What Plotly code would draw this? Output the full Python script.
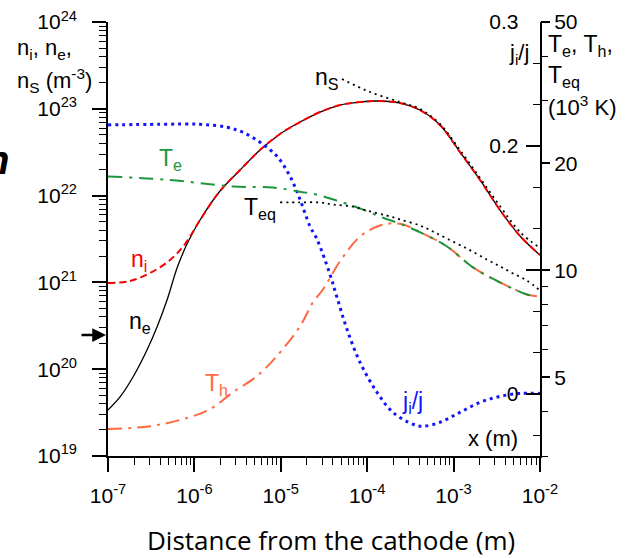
import numpy as np
import plotly.graph_objects as go

# ---------------- data (x given as log10 of distance in m) ----------------
# densities, log10(n / m^-3)
n_tail_logx = [-5.935, -5.704, -5.472, -5.241, -5.009, -4.778, -4.546, -4.315, -4.083,
               -3.852, -3.620, -3.389, -3.157, -2.926, -2.694, -2.463, -2.231, -2.000]
n_tail_logn = [21.719, 22.053, 22.295, 22.525, 22.710, 22.848, 22.963, 23.044, 23.078,
               23.090, 23.067, 22.986, 22.813, 22.502, 22.180, 21.834, 21.535, 21.316]

ne_logx = [-7.000, -6.861, -6.711, -6.549, -6.433, -6.317, -6.201, -6.086] + n_tail_logx
ne_logn = [19.530, 19.680, 19.910, 20.221, 20.486, 20.797, 21.165, 21.442] + n_tail_logn

ni_logx = [-7.000, -6.745, -6.514, -6.282, -6.109] + n_tail_logx
ni_logn = [20.993, 21.016, 21.108, 21.258, 21.442] + n_tail_logn

ns_logx = [-4.292, -3.968, -3.620, -3.389, -3.157, -2.926, -2.694, -2.463, -2.231, -2.000]
ns_logn = [23.343, 23.194, 23.078, 22.998, 22.825, 22.525, 22.203, 21.880, 21.580, 21.397]

# temperatures, log10(T / 10^3 K)
t_tail_logx = [-3.620, -3.354, -3.076, -2.775, -2.463, -2.150, -2.035]
t_tail_logt = [1.131, 1.103, 1.067, 1.008, 0.966, 0.932, 0.927]

te_logx = [-7.000, -6.317, -5.553, -5.090, -4.778, -4.581, -4.350, -4.083, -3.817] + t_tail_logx
te_logt = [1.264, 1.255, 1.236, 1.233, 1.221, 1.213, 1.196, 1.174, 1.148] + t_tail_logt

th_logx = [-7.000, -6.514, -6.132, -5.819, -5.553, -5.275, -5.009, -4.778, -4.627,
           -4.512, -4.315, -4.083, -3.852] + t_tail_logx
th_logt = [0.553, 0.561, 0.581, 0.609, 0.657, 0.702, 0.769, 0.842, 0.910,
           0.946, 1.025, 1.095, 1.126] + t_tail_logt

teq_logx = [-5.009, -4.778, -4.546, -4.396, -4.164, -4.002, -3.771, -3.620, -3.389,
            -3.238, -3.076, -2.845, -2.613, -2.463, -2.312, -2.150, -2.000]
teq_logt = [1.191, 1.191, 1.191, 1.185, 1.179, 1.168, 1.154, 1.143, 1.126,
            1.109, 1.089, 1.061, 1.030, 1.011, 0.991, 0.971, 0.943]

# ion current fraction j_i/j
j_logx = [-7.000, -6.398, -5.935, -5.623, -5.438, -5.241, -5.044, -4.894, -4.778,
          -4.662, -4.581, -4.431, -4.350, -4.234, -4.083, -3.887, -3.701, -3.470,
          -3.354, -3.157, -2.926, -2.694, -2.463, -2.231, -2.000]
j_frac = [0.2170, 0.2175, 0.2175, 0.2151, 0.2110, 0.2030, 0.1917, 0.1756, 0.1570,
          0.1352, 0.1248, 0.0965, 0.0780, 0.0522, 0.0256, 0.0014, -0.0148, -0.0244,
          -0.0260, -0.0228, -0.0148, -0.0067, -0.0019, 0.0005, 0.0005]

# axis ticks
x_decades = [-7, -6, -5, -4, -3, -2]
n_decades = [19, 20, 21, 22, 23, 24]
j_ticks = [0.0, 0.1, 0.2, 0.3]
j_labels = ["0", "", "0.2", "0.3"]
t_ticks = [5, 10, 20, 50]
t_minor = [3, 4, 6, 7, 8, 9, 30, 40]

# ---------------- figure ----------------
W, H = 629, 558
L, R, T, B = 108, 540, 22, 456
FONT = "Liberation Sans, Arial, Helvetica, sans-serif"

GREEN = "rgb(30,150,60)"
ORANGE = "rgb(255,105,65)"
BLUE = "rgb(20,20,250)"
RED = "rgb(245,0,0)"


def p10(a):
    return np.power(10.0, np.array(a))


def xp(px):
    return (px - L) / (R - L)


def yp(py):
    return (B - py) / (B - T)


fig = go.Figure()

# temperatures (log scale, right)
fig.add_trace(go.Scatter(x=p10(th_logx), y=p10(th_logt), yaxis="y3", mode="lines",
                         line=dict(color=ORANGE, width=2, dash="14px,6px,3px,6px", shape="spline")))
fig.add_trace(go.Scatter(x=p10(te_logx), y=p10(te_logt), yaxis="y3", mode="lines",
                         line=dict(color=GREEN, width=2, dash="14px,7px,3px,7px", shape="spline")))
fig.add_trace(go.Scatter(x=p10(teq_logx), y=p10(teq_logt), yaxis="y3", mode="lines",
                         line=dict(color="black", width=1.8, dash="2px,4px", shape="spline")))

# current fraction (linear, right)
fig.add_trace(go.Scatter(x=p10(j_logx), y=j_frac, yaxis="y2", mode="lines",
                         line=dict(color=BLUE, width=3, dash="3px,4px", shape="spline")))

# densities (log scale, left)
fig.add_trace(go.Scatter(x=p10(ne_logx), y=p10(ne_logn), yaxis="y", mode="lines",
                         line=dict(color="black", width=1.3, shape="spline")))
fig.add_trace(go.Scatter(x=p10(ni_logx), y=p10(ni_logn), yaxis="y", mode="lines",
                         line=dict(color=RED, width=2, dash="7px,4px", shape="spline")))
fig.add_trace(go.Scatter(x=p10(ns_logx), y=p10(ns_logn), yaxis="y", mode="lines",
                         line=dict(color="black", width=1.8, dash="2px,4px", shape="spline")))

x_minor = [k * 10.0 ** e for e in x_decades[:-1] for k in range(2, 10)]
n_minor = [k * 10.0 ** e for e in n_decades[:-1] for k in range(2, 10)]
j_minor = [i / 30.0 for i in range(-1, 10) if i % 3 != 0]

axis_common = dict(showgrid=False, zeroline=False, automargin=False,
                   linecolor="black", tickcolor="black", ticklabeloverflow="allow")

fig.update_layout(
    width=W, height=H,
    margin=dict(l=L, r=W - R, t=T, b=H - B),
    paper_bgcolor="white", plot_bgcolor="white",
    showlegend=False,
    font=dict(family=FONT, size=20, color="black"),
    xaxis=dict(type="log", range=[-7.0005, -1.9995], showline=True, linewidth=1.5,
               ticks="outside", ticklen=14, tickwidth=1.5,
               tickvals=[10.0 ** e for e in x_decades],
               ticktext=[f"10<sup>{e}</sup>" for e in x_decades],
               tickfont=dict(size=21, color="black"), ticklabelstandoff=6,
               minor=dict(ticks="outside", ticklen=7, tickwidth=1.2, tickcolor="black",
                          tickvals=x_minor, showgrid=False),
               **axis_common),
    yaxis=dict(type="log", range=[18.9995, 24.0005], showline=True, linewidth=1.5,
               ticks="outside", ticklen=14, tickwidth=1.5,
               tickvals=[10.0 ** e for e in n_decades],
               ticktext=[f"10<sup>{e}</sup>" for e in n_decades],
               tickfont=dict(size=21, color="black"), ticklabelstandoff=11,
               minor=dict(ticks="outside", ticklen=7, tickwidth=1.2, tickcolor="black",
                          tickvals=n_minor, showgrid=False),
               **axis_common),
    yaxis2=dict(overlaying="y", side="right", anchor="x", range=[-0.05, 0.3],
                showline=True, linewidth=1.5,
                ticks="inside", ticklen=14, tickwidth=1.5,
                tickvals=j_ticks, ticktext=j_labels, ticklabelposition="inside",
                tickfont=dict(size=21, color="black"), ticklabelstandoff=9,
                minor=dict(ticks="inside", ticklen=7, tickwidth=1.2, tickcolor="black",
                           tickvals=j_minor, showgrid=False),
                **axis_common),
    yaxis3=dict(overlaying="y", side="right", anchor="x", type="log",
                range=[np.log10(3), np.log10(50)], showline=False,
                ticks="outside", ticklen=9, tickwidth=1.5,
                tickvals=t_ticks, ticktext=[str(t) for t in t_ticks],
                tickfont=dict(size=21, color="black"),
                minor=dict(ticks="outside", ticklen=7, tickwidth=1.2, tickcolor="black",
                           tickvals=t_minor, showgrid=False),
                **axis_common),
)


def label(text, px, py, color="black", size=23, xanchor="center", **kw):
    fig.add_annotation(text=text, xref="paper", yref="paper", x=xp(px), y=yp(py),
                       xanchor=xanchor, yanchor="middle", showarrow=False,
                       font=dict(family=FONT, size=size, color=color), **kw)


# axis titles
label("n<sub>i</sub>, n<sub>e</sub>,", 15, 49, size=22, xanchor="left")
label("n<sub>S</sub> (m<sup>-3</sup>)", 15, 80, size=22, xanchor="left")
label("j<sub>i</sub>/j", 531, 54, size=22, xanchor="right")
label("T<sub>e</sub>, T<sub>h</sub>,", 546, 46, size=23, xanchor="left")
label("T<sub>eq</sub>", 546, 76, size=23, xanchor="left")
label("(10<sup>3</sup> K)", 546, 106, size=22, xanchor="left")
label("x (m)", 493, 438, size=22)

# curve labels
label("n<sub>S</sub>", 327, 78)
label("T<sub>e</sub>", 170, 160, color=GREEN)
label("T<sub>eq</sub>", 260, 208)
label("n<sub>i</sub>", 139, 260, color=RED)
label("n<sub>e</sub>", 140, 322)
label("T<sub>h</sub>", 216, 384, color=ORANGE)
label("j<sub>i</sub>/j", 412, 402, color=BLUE)

# bottom caption
fig.add_annotation(text="Distance from the cathode (m)", xref="paper", yref="paper",
                   x=xp(331), y=yp(540), xanchor="center", yanchor="middle", showarrow=False,
                   font=dict(family="Open Sans, sans-serif", size=26, color="black"))

# partial heading letter at the left edge
fig.add_annotation(text="<b><i>n</i></b>", xref="paper", yref="paper",
                   x=xp(11), y=yp(160), xanchor="right", yanchor="middle", showarrow=False,
                   font=dict(family=FONT, size=40, color="black"))

# arrow pointing at the left axis
fig.add_annotation(text="", xref="paper", yref="paper", x=xp(106), y=yp(335),
                   ax=-26, ay=0, showarrow=True, arrowhead=2, arrowsize=1.1,
                   arrowwidth=2.5, arrowcolor="black")

fig.write_html("out.html")
